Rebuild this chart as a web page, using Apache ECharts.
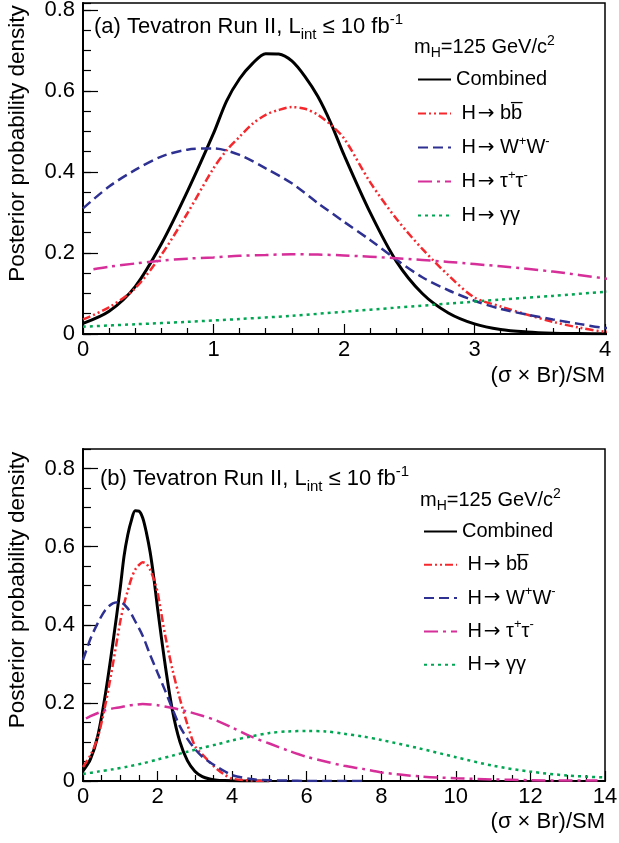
<!DOCTYPE html>
<html><head><meta charset="utf-8">
<script src="https://cdn.jsdelivr.net/npm/echarts@6/dist/echarts.min.js"></script>
<style>html,body{margin:0;padding:0;background:#fff}#c{width:619px;height:843px}</style>
</head><body><div id="c"></div>
<script>
// ---------- data ----------
const xTicksA = [0, 1, 2, 3, 4];
const xTicksB = [0, 2, 4, 6, 8, 10, 12, 14];
const yTicks = [0, 0.2, 0.4, 0.6, 0.8];

const combX = [0, 0.2, 0.4, 0.6, 0.8, 1.0, 1.1, 1.2, 1.3, 1.4, 1.5, 1.6, 1.7, 1.8, 1.9, 2.0, 2.2, 2.4, 2.6, 2.8, 3.0, 3.2, 3.4, 3.6, 3.8, 4.0, 4.5, 5.0];
const combY = [0.026, 0.056, 0.117, 0.222, 0.352, 0.495, 0.575, 0.630, 0.668, 0.692, 0.691, 0.674, 0.636, 0.586, 0.520, 0.442, 0.300, 0.180, 0.100, 0.052, 0.025, 0.011, 0.005, 0.002, 0.001, 0.0005, 0, 0];

const bbX = [0, 0.2, 0.4, 0.6, 0.8, 1.0, 1.1, 1.2, 1.3, 1.4, 1.5, 1.6, 1.7, 1.8, 1.9, 2.0, 2.2, 2.4, 2.6, 2.8, 3.0, 3.2, 3.4, 3.6, 3.8, 4.0, 4.5, 5.0];
const bbY = [0.036, 0.066, 0.113, 0.195, 0.298, 0.409, 0.453, 0.487, 0.519, 0.541, 0.553, 0.560, 0.556, 0.541, 0.516, 0.483, 0.375, 0.285, 0.210, 0.145, 0.090, 0.068, 0.048, 0.030, 0.016, 0.006, 0.001, 0];

const wwX = [0, 0.2, 0.4, 0.6, 0.8, 1.0, 1.2, 1.4, 1.6, 1.8, 2.0, 2.2, 2.4, 2.6, 2.8, 3.0, 3.2, 3.4, 3.6, 3.8, 4.0, 4.5, 5.0, 5.5, 6.0, 6.5, 7.0, 7.5];
const wwY = [0.310, 0.364, 0.405, 0.438, 0.455, 0.458, 0.442, 0.409, 0.372, 0.323, 0.277, 0.232, 0.184, 0.140, 0.108, 0.082, 0.062, 0.048, 0.036, 0.025, 0.015, 0.005, 0.002, 0.001, 0, 0, 0, 0];

const ttX = [0.08, 0.2, 0.4, 0.6, 0.8, 1.0, 1.2, 1.4, 1.6, 1.8, 2.0, 2.4, 2.8, 3.2, 3.6, 4.0, 4.5, 5.0, 5.5, 6.0, 6.5, 7.0, 7.5, 8.0, 9.0, 10.0, 11.0, 12.0, 13.0, 13.8];
const ttY = [0.160, 0.166, 0.174, 0.181, 0.186, 0.189, 0.193, 0.195, 0.197, 0.196, 0.194, 0.187, 0.178, 0.167, 0.154, 0.137, 0.114, 0.096, 0.078, 0.062, 0.050, 0.039, 0.031, 0.022, 0.012, 0.007, 0.004, 0.002, 0.001, 0.001];

const ggX = [0, 0.4, 0.8, 1.2, 1.6, 2.0, 2.4, 2.8, 3.2, 3.6, 4.0, 4.5, 5.0, 5.5, 6.0, 6.5, 7.0, 7.5, 8.0, 9.0, 10.0, 11.0, 12.0, 13.0, 14.0];
const ggY = [0.018, 0.024, 0.030, 0.037, 0.045, 0.055, 0.065, 0.075, 0.085, 0.094, 0.104, 0.114, 0.123, 0.127, 0.128, 0.127, 0.121, 0.114, 0.105, 0.084, 0.061, 0.039, 0.024, 0.014, 0.009];

const seriesNames = ['Combined', 'bb', 'WW', 'tautau', 'gamgam'];
const legendLabels = {
  Combined: 'Combined',
  bb: ' H\u200a{ar|\u2192} bb\u0305',
  WW: ' H\u200a{ar|\u2192} W{sup|+}W{sup|-}',
  tautau: ' H\u200a{ar|\u2192} \u03c4{sup|+}\u03c4{sup|-}',
  gamgam: ' H\u200a{ar|\u2192} \u03b3\u03b3'
};
const headerA = '(a) Tevatron Run II, L{sub|int} \u2264 10 fb{sup|-1}';
const headerB = '(b) Tevatron Run II, L{sub|int} \u2264 10 fb{sup|-1}';
const massLabel = 'm{sub|H}=125 GeV/c{sup|2}';
const xTitle = '(\u03c3 \u00d7 Br)/SM';
const yTitle = 'Posterior probability density';

// ---------- styling ----------
const FONT = "'Liberation Sans', Arial, Helvetica, sans-serif";
const styles = {
  Combined: { color: '#000000', width: 3, type: 'solid' },
  bb: { color: '#f5282d', width: 2.5, type: [8, 3, 2, 3, 2, 3] },
  WW: { color: '#2e3192', width: 2.5, type: [10, 5] },
  tautau: { color: '#d62f99', width: 2.5, type: [14, 5, 3, 5] },
  gamgam: { color: '#00a651', width: 2.5, type: [3, 4] }
};
const dataMap = {
  Combined: [combX, combY], bb: [bbX, bbY], WW: [wwX, wwY],
  tautau: [ttX, ttY], gamgam: [ggX, ggY]
};
const pairs = (xs, ys) => xs.map((x, i) => [x, ys[i]]);

const grids = [
  { left: 83, top: 3, width: 522, height: 331 },
  { left: 83, top: 449, width: 522, height: 332 }
];
const xMax = [xTicksA[xTicksA.length - 1], xTicksB[xTicksB.length - 1]];
const xInt = [xTicksA[1] - xTicksA[0], xTicksB[1] - xTicksB[0]];
const xMinorSplit = [5, 4];
const yMax = [0.817, 0.85];
const yTitleShift = [50, 50];
const xTitlePad = [31, 30];

const chart = echarts.init(document.getElementById('c'), null, { renderer: 'canvas' });

const xAxes = [0, 1].map(g => ({
  type: 'value', gridIndex: g, min: 0, max: xMax[g], interval: xInt[g],
  axisLine: { show: true, onZero: false, lineStyle: { color: '#000', width: 2 } },
  axisTick: { show: true, inside: true, length: 10, lineStyle: { color: '#000', width: 1.2 } },
  minorTick: { show: true, splitNumber: xMinorSplit[g], length: 6, lineStyle: { color: '#000', width: 1.2 } },
  splitLine: { show: false }, minorSplitLine: { show: false },
  axisLabel: { margin: 5, fontSize: 22, fontFamily: FONT, color: '#000' },
  name: xTitle, nameLocation: 'end', nameGap: 0,
  nameTextStyle: { align: 'right', verticalAlign: 'top', padding: [xTitlePad[g], 0, 0, 0], fontSize: 22, fontFamily: FONT, color: '#000' }
}));

const yAxes = [];
[0, 1].forEach(g => {
  yAxes.push({
    type: 'value', gridIndex: g, min: 0, max: yMax[g], interval: yTicks[1] - yTicks[0], position: 'left',
    axisLine: { show: true, lineStyle: { color: '#000', width: 2 } },
    axisTick: { show: true, inside: true, length: 15, lineStyle: { color: '#000', width: 1.2 } },
    minorTick: { show: false }, splitLine: { show: false },
    axisLabel: { margin: 8, fontSize: 22, fontFamily: FONT, color: '#000', showMaxLabel: false,
      formatter: v => (v === 0 ? '0' : v.toFixed(1)) },
    name: yTitle, nameLocation: 'middle', nameGap: 65, nameRotate: 90,
    nameTextStyle: { align: 'center', verticalAlign: 'middle', padding: [0, 0, 0, yTitleShift[g]], fontSize: 22.5, fontFamily: FONT, color: '#000' }
  });
  yAxes.push({
    type: 'value', gridIndex: g, min: 0, max: yMax[g], interval: (yTicks[1] - yTicks[0]) / 4, position: 'left',
    axisLine: { show: false },
    axisTick: { show: true, inside: true, length: 8, lineStyle: { color: '#000', width: 1.2 } },
    axisLabel: { show: false }, splitLine: { show: false }
  });
});

const series = [];
[0, 1].forEach(g => {
  seriesNames.forEach((n, k) => {
    const s = styles[n];
    series.push({
      type: 'line', name: n, xAxisIndex: g, yAxisIndex: g * 2,
      data: pairs(dataMap[n][0], dataMap[n][1]),
      symbol: 'none', showSymbol: false, smooth: 0.3, clip: true,
      lineStyle: { color: s.color, width: s.width, type: s.type, cap: 'butt' },
      itemStyle: { color: s.color },
      z: 2 + k, silent: true, animation: false
    });
  });
});

const legendRich = {
  sup: { fontSize: 13, lineHeight: 19, verticalAlign: 'top', fontFamily: FONT, color: '#000' },
  ar: { fontSize: 20, lineHeight: 26, fontFamily: "'DejaVu Sans', sans-serif", color: '#000' }
};
const legends = [
  { left: 417, top: 66.5, itemGap: 8 },
  { left: 423, top: 518.5, itemGap: 7.3 }
].map(p => ({
  left: p.left, top: p.top, orient: 'vertical', itemGap: p.itemGap, padding: 0,
  itemWidth: 33, itemHeight: 26, selectedMode: false,
  data: seriesNames,
  formatter: name => legendLabels[name],
  itemStyle: { opacity: 0, borderWidth: 0 },
  textStyle: { fontSize: 20, fontFamily: FONT, color: '#000', lineHeight: 26, rich: legendRich }
}));

const headRich = (big) => ({
  sub: { fontSize: big ? 15 : 14, lineHeight: big ? 6 : 8, verticalAlign: 'bottom', fontFamily: FONT, fill: '#000' },
  sup: { fontSize: big ? 15 : 14, lineHeight: big ? 16 : 17, verticalAlign: 'top', fontFamily: FONT, fill: '#000' }
});
const mkText = (txt, x, y, size, big) => ({
  type: 'text', x: x, y: y, silent: true,
  style: { text: txt, fontSize: size, fontFamily: FONT, fill: '#000', lineHeight: big ? 30 : 26,
    align: 'left', verticalAlign: 'middle', rich: headRich(big) }
});

chart.setOption({
  animation: false,
  backgroundColor: '#ffffff',
  grid: grids.map(r => Object.assign({ show: true, borderColor: '#000', borderWidth: 1.5,
    backgroundColor: 'transparent', containLabel: false, outerBoundsMode: 'none' }, r)),
  xAxis: xAxes,
  yAxis: yAxes,
  legend: legends,
  series: series,
  graphic: [
    mkText(headerA, 94, 27, 22, true),
    mkText(headerB, 100, 479, 22, true),
    mkText(massLabel, 414, 47.5, 20, false),
    mkText(massLabel, 420, 500, 20, false)
  ]
});
</script></body></html>
